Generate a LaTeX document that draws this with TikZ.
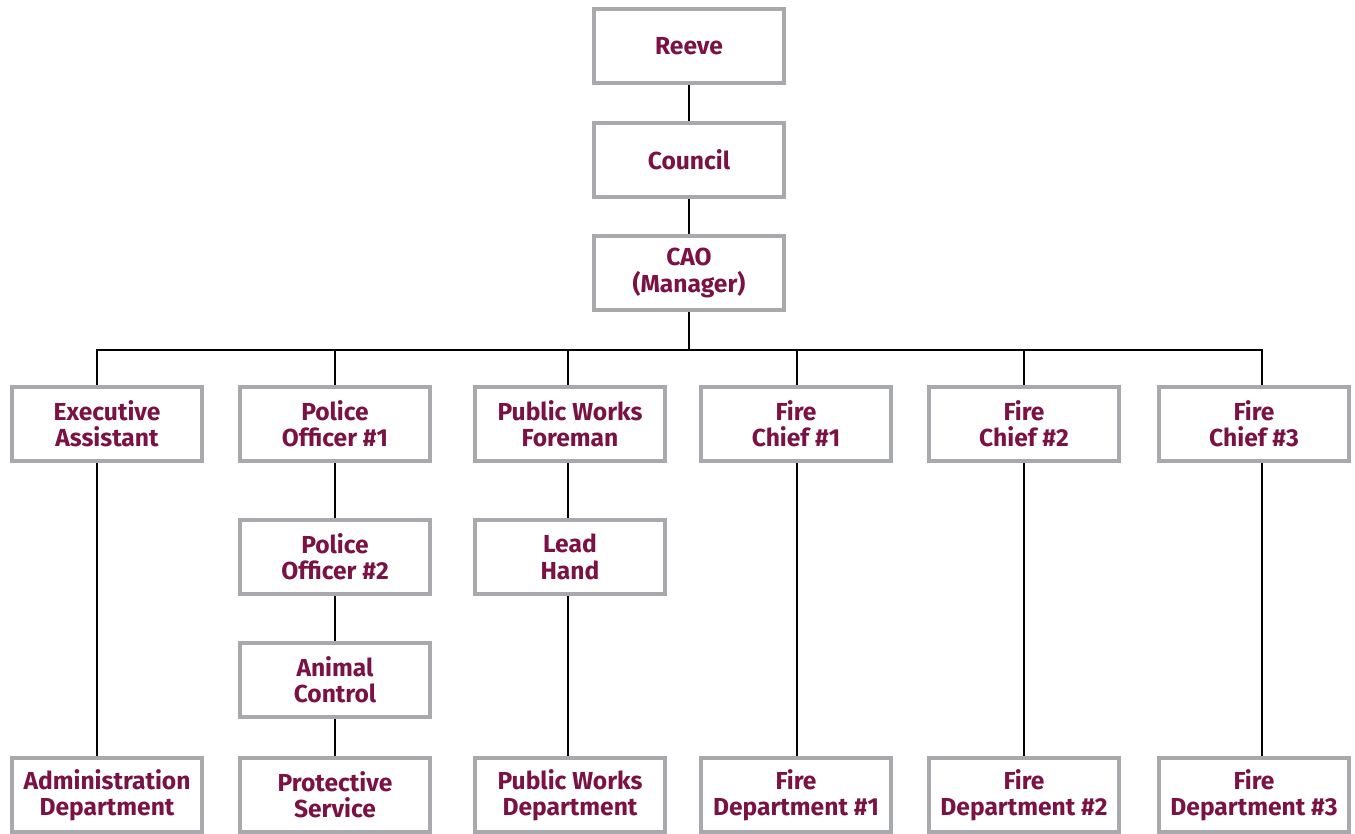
\documentclass[tikz,border=0pt]{standalone}
\usepackage{fontspec}
\setmainfont{Fira Sans}
\usetikzlibrary{positioning,calc}
\definecolor{boxgray}{HTML}{A7A9AC}
\definecolor{namered}{HTML}{7A1244}
\tikzset{
  unit/.style={draw=boxgray,line width=2.3pt,fill=white,minimum width=3.8cm,minimum height=1.48cm,
    align=center,text=namered,font=\fontsize{14}{15}\selectfont\bfseries,inner sep=0pt},
  link/.style={draw=black,line width=0.85pt}
}
\begin{document}
\begin{tikzpicture}[x=0.02cm,y=-0.02cm]
\useasboundingbox (0,0) rectangle (1355,834);
% top of the chart
\node[unit] (reeve) at (689,46) {Reeve};
\node[unit] (council) at (689,160) {Council};
\node[unit] (cao) at (689,273) {CAO\\(Manager)};
\coordinate (bus) at (689,350);
% second row
\node[unit] (ea) at (107,424) {Executive\\Assistant};
\node[unit] (po1) at (335,424) {Police\\Officer \#1};
\node[unit] (pwf) at (570,424) {Public Works\\Foreman};
\node[unit] (fc1) at (796,424) {Fire\\Chief \#1};
\node[unit] (fc2) at (1024,424) {Fire\\Chief \#2};
\node[unit] (fc3) at (1254,424) {Fire\\Chief \#3};
% middle
\node[unit] (po2) at (335,557) {Police\\Officer \#2};
\node[unit] (lh) at (570,557) {Lead\\Hand};
\node[unit] (ac) at (335,680) {Animal\\Control};
% departments
\node[unit] (adm) at (107,795) {Administration\\Department};
\node[unit] (ps) at (335,795) {Protective\\Service};
\node[unit] (pwd) at (570,795) {Public Works\\Department};
\node[unit] (fd1) at (796,795) {Fire\\Department \#1};
\node[unit] (fd2) at (1024,795) {Fire\\Department \#2};
\node[unit] (fd3) at (1254,795) {Fire\\Department \#3};
% connectors
\draw[link] (reeve) -- (council);
\draw[link] (council) -- (cao);
\draw[link] (cao) -- (bus);
\draw[link] ([xshift=-0.2cm]ea.north) |- (bus) -| ([xshift=0.16cm]fc3.north);
\foreach \n in {po1,fc2} \draw[link] (\n.north) -- (\n.north |- bus);
\draw[link] ([xshift=-0.04cm]pwf.north) -- ([xshift=-0.04cm]pwf.north |- bus);
\draw[link] ([xshift=0.02cm]fc1.north) -- ([xshift=0.02cm]fc1.north |- bus);
\draw[link] ([xshift=-0.2cm]ea.south) -- ([xshift=-0.2cm]adm.north);
\draw[link] (po1) -- (po2);
\draw[link] (po2) -- (ac);
\draw[link] (ac) -- (ps);
\draw[link] ([xshift=-0.04cm]pwf.south) -- ([xshift=-0.04cm]lh.north);
\draw[link] ([xshift=-0.04cm]lh.south) -- ([xshift=-0.04cm]pwd.north);
\draw[link] ([xshift=0.02cm]fc1.south) -- ([xshift=0.02cm]fd1.north);
\draw[link] (fc2) -- (fd2);
\draw[link] ([xshift=0.16cm]fc3.south) -- ([xshift=0.16cm]fd3.north);
\end{tikzpicture}
\end{document}
